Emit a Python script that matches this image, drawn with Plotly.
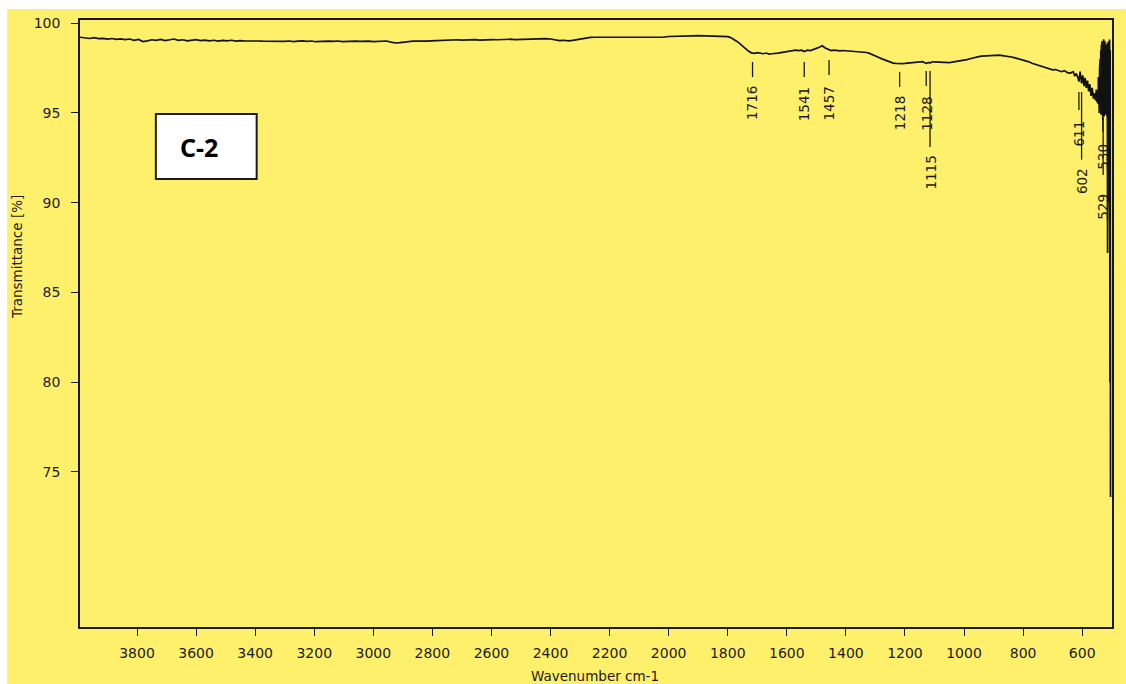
import plotly.graph_objects as go

# ---- spectrum data: wavenumber (cm-1) and transmittance (%) ----
wavenumber = [
    3993, 3975, 3960, 3945, 3930, 3915, 3900, 3885, 3870, 3855, 3840, 3825, 3810, 3795,
    3780, 3765, 3750, 3735, 3720, 3705, 3690, 3675, 3660, 3645, 3630, 3615, 3600, 3585,
    3570, 3555, 3540, 3525, 3510, 3495, 3480, 3465, 3450, 3435, 3420, 3405, 3390, 3375,
    3360, 3345, 3330, 3315, 3300, 3285, 3270, 3255, 3240, 3225, 3210, 3195, 3180, 3165,
    3150, 3135, 3120, 3105, 3090, 3075, 3060, 3045, 3030, 3015, 3000, 2985, 2970, 2955,
    2940, 2925, 2910, 2895, 2880, 2865, 2850, 2835, 2820, 2805, 2790, 2775, 2760, 2745,
    2730, 2715, 2700, 2685, 2670, 2655, 2640, 2625, 2610, 2595, 2580, 2565, 2550, 2535,
    2520, 2505, 2490, 2475, 2460, 2445, 2430, 2415, 2400, 2385, 2370, 2355, 2340, 2325,
    2310, 2295, 2280, 2265, 2250, 2235, 2220, 2200, 2180, 2160, 2140, 2120, 2100, 2080,
    2060, 2040, 2020, 2000, 1980, 1960, 1940, 1920, 1900, 1880, 1860, 1840, 1820, 1800,
    1790, 1780, 1770, 1760, 1750, 1740, 1730, 1720, 1710, 1700, 1690, 1680, 1670, 1660,
    1650, 1640, 1630, 1620, 1610, 1600, 1590, 1580, 1570, 1560, 1550, 1541, 1530, 1520,
    1510, 1500, 1490, 1480, 1470, 1460, 1450, 1440, 1430, 1420, 1410, 1400, 1390, 1380,
    1370, 1360, 1350, 1340, 1330, 1320, 1310, 1300, 1290, 1280, 1270, 1260, 1250, 1240,
    1230, 1218, 1210, 1200, 1190, 1180, 1170, 1160, 1150, 1140, 1128, 1120, 1115, 1110,
    1100, 1090, 1080, 1070, 1060, 1050, 1040, 1030, 1020, 1010, 1000, 990, 980, 970,
    960, 950, 940, 930, 920, 910, 900, 890, 880, 870, 860, 850, 840, 830,
    820, 810, 800, 790, 780, 770, 760, 750, 740, 730, 720, 710, 700, 690,
    680, 670, 660, 650, 640, 630, 625, 620, 615, 611, 607, 602, 598, 594,
    590, 586, 582, 578, 574, 570, 566, 562, 558, 555, 552, 550, 548, 546,
    545, 544, 543, 542, 541, 540, 539, 538, 537, 536, 535, 534, 533, 532,
    531, 530, 529, 528, 527, 526, 525, 524, 523, 522, 521, 520, 519, 518,
    517, 516, 515, 514, 513, 512, 511, 510, 509, 508, 507, 506, 505, 504,
]

transmittance = [
    99.22, 99.18, 99.15, 99.20, 99.14, 99.16, 99.12, 99.15, 99.10, 99.13, 99.09, 99.12, 99.05, 99.10,
    98.98, 99.02, 99.08, 99.05, 99.10, 99.03, 99.07, 99.12, 99.05, 99.08, 99.02, 99.06, 99.09, 99.03,
    99.06, 99.02, 99.05, 99.00, 99.04, 99.02, 99.05, 99.00, 99.03, 99.01, 99.02, 98.99, 99.01, 99.00,
    98.99, 99.00, 98.98, 99.00, 98.99, 99.01, 98.98, 99.00, 99.02, 98.99, 99.01, 98.97, 98.99, 98.98,
    99.00, 98.99, 99.01, 98.98, 99.00, 99.02, 99.00, 98.99, 99.01, 99.00, 98.98, 99.00, 98.99, 99.01,
    98.95, 98.90, 98.92, 98.93, 98.98, 99.00, 98.99, 99.01, 99.00, 99.02, 99.03, 99.06, 99.05, 99.07,
    99.05, 99.08, 99.06, 99.08, 99.07, 99.09, 99.06, 99.08, 99.07, 99.09, 99.08, 99.10, 99.09, 99.11,
    99.09, 99.10, 99.11, 99.12, 99.10, 99.13, 99.12, 99.14, 99.12, 99.06, 99.03, 99.05, 99.02, 99.04,
    99.08, 99.12, 99.20, 99.21, 99.22, 99.22, 99.21, 99.22, 99.22, 99.22, 99.23, 99.22, 99.23, 99.22,
    99.23, 99.22, 99.22, 99.26, 99.28, 99.30, 99.29, 99.30, 99.31, 99.30, 99.29, 99.30, 99.28, 99.25,
    99.20, 99.12, 99.00, 98.88, 98.72, 98.58, 98.45, 98.35, 98.32, 98.36, 98.33, 98.30, 98.34, 98.28,
    98.30, 98.30, 98.33, 98.36, 98.38, 98.42, 98.46, 98.48, 98.50, 98.47, 98.50, 98.42, 98.50, 98.48,
    98.56, 98.60, 98.66, 98.74, 98.62, 98.55, 98.48, 98.50, 98.47, 98.46, 98.48, 98.47, 98.45, 98.44,
    98.45, 98.43, 98.42, 98.40, 98.37, 98.32, 98.26, 98.18, 98.10, 98.03, 97.96, 97.90, 97.84, 97.78,
    97.76, 97.74, 97.75, 97.76, 97.78, 97.80, 97.83, 97.86, 97.85, 97.86, 97.76, 97.82, 97.78, 97.84,
    97.85, 97.84, 97.83, 97.80, 97.79, 97.80, 97.83, 97.86, 97.86, 97.88, 97.92, 97.97, 98.02, 98.07,
    98.11, 98.14, 98.17, 98.18, 98.20, 98.21, 98.22, 98.23, 98.22, 98.20, 98.18, 98.17, 98.12, 98.08,
    98.04, 98.00, 97.95, 97.88, 97.85, 97.77, 97.72, 97.66, 97.60, 97.55, 97.50, 97.44, 97.40, 97.42,
    97.35, 97.30, 97.36, 97.25, 97.22, 97.30, 97.05, 97.20, 97.00, 96.75, 97.30, 96.65, 97.10, 96.50,
    96.95, 96.40, 96.80, 96.20, 96.60, 95.95, 96.40, 95.80, 96.10, 95.70, 96.30, 95.60, 96.20, 95.50,
    97.00, 95.30, 96.50, 95.00, 97.50, 95.20, 98.00, 95.00, 98.50, 94.90, 98.80, 95.00, 99.00, 94.80,
    98.60, 94.60, 98.90, 95.00, 99.10, 94.80, 98.70, 95.10, 99.00, 94.90, 98.80, 95.20, 98.50, 95.00,
    97.80, 94.80, 98.90, 87.20, 98.70, 95.00, 99.00, 94.50, 98.80, 90.00, 99.10, 80.00, 98.50, 73.60,
]

# ---- peak picks ----
peak_wn = [1716, 1541, 1457, 1218, 1128, 1115, 611, 602, 530, 529]

# placement of each pick marker: (line top, line bottom, label centre) in % units
pick_layout = [
    (97.84, 97.00, 95.53),
    (97.84, 97.00, 95.50),
    (97.95, 97.12, 95.53),
    (97.29, 96.45, 94.97),
    (97.34, 96.50, 94.97),
    (97.34, 93.10, 91.68),
    (96.17, 95.17, 93.85),
    (96.17, 92.40, 91.18),
    (94.70, 93.95, 92.55),
    (94.70, 91.55, 89.78),
]

C2_LABEL = "C-2"

# ---- geometry (pixels) ----
W, H = 1126, 684
ML, MR, MT, MB = 80, 12, 20, 57
PW, PH = W - ML - MR, H - MT - MB


def px_x(x):
    return (x - ML) / PW


def px_y(y):
    return (H - MB - y) / PH


YELLOW = "#FFF06C"
INK = "#1a1a1a"
FONT = "DejaVu Sans"

fig = go.Figure()
fig.add_trace(go.Scatter(
    x=wavenumber, y=transmittance, mode="lines",
    line=dict(color="#111111", width=1.7), hoverinfo="skip", showlegend=False,
))

shapes = [
    # yellow chart panel
    dict(type="rect", xref="paper", yref="paper",
         x0=px_x(7), x1=px_x(W + 2), y0=px_y(H + 2), y1=px_y(9),
         fillcolor=YELLOW, line=dict(width=0), layer="below"),
    # sample label box
    dict(type="rect", xref="paper", yref="paper",
         x0=px_x(156), x1=px_x(257), y0=px_y(179), y1=px_y(114),
         fillcolor="white", line=dict(color=INK, width=2), layer="above"),
]

annotations = []
for wn, (top, bottom, mid) in zip(peak_wn, pick_layout):
    shapes.append(dict(type="line", xref="x", yref="y", x0=wn, x1=wn, y0=top, y1=bottom,
                       line=dict(color=INK, width=1.3)))
    annotations.append(dict(x=wn, y=mid, xref="x", yref="y", text=str(wn), textangle=-90,
                            showarrow=False, xanchor="center", yanchor="middle",
                            font=dict(family=FONT, size=13.5, color=INK)))

annotations += [
    dict(x=px_x(199), y=px_y(147), xref="paper", yref="paper", text="<b>" + C2_LABEL + "</b>",
         showarrow=False, xanchor="center", yanchor="middle",
         font=dict(family="Noto Sans", size=25, color="black")),
    dict(x=px_x(17), y=px_y(257), xref="paper", yref="paper", text="Transmittance [%]",
         textangle=-90, showarrow=False, xanchor="center", yanchor="middle",
         font=dict(family=FONT, size=13.5, color=INK)),
    dict(x=px_x(596), y=px_y(676), xref="paper", yref="paper", text="Wavenumber cm-1",
         showarrow=False, xanchor="center", yanchor="middle",
         font=dict(family=FONT, size=13.5, color=INK)),
]

fig.update_layout(
    width=W, height=H,
    margin=dict(l=ML, r=MR, t=MT, b=MB, pad=0),
    paper_bgcolor="white", plot_bgcolor=YELLOW,
    showlegend=False,
    shapes=shapes, annotations=annotations,
    font=dict(family=FONT, size=14, color=INK),
)
fig.update_xaxes(
    range=[3993, 499], tickmode="array",
    tickvals=[3800, 3600, 3400, 3200, 3000, 2800, 2600, 2400, 2200, 2000, 1800, 1600, 1400, 1200, 1000, 800, 600],
    ticks="outside", ticklen=7, tickwidth=1.3, tickcolor=INK,
    showline=True, linecolor=INK, linewidth=1.6, mirror=True,
    showgrid=False, zeroline=False, ticklabelstandoff=5,
)
fig.update_yaxes(
    range=[66.36, 100.18], tickmode="array", tickvals=[75, 80, 85, 90, 95, 100],
    ticks="outside", ticklen=7, tickwidth=1.3, tickcolor=INK,
    showline=True, linecolor=INK, linewidth=1.6, mirror=True,
    showgrid=False, zeroline=False, ticklabelstandoff=8,
)

fig.write_html("out.html")
